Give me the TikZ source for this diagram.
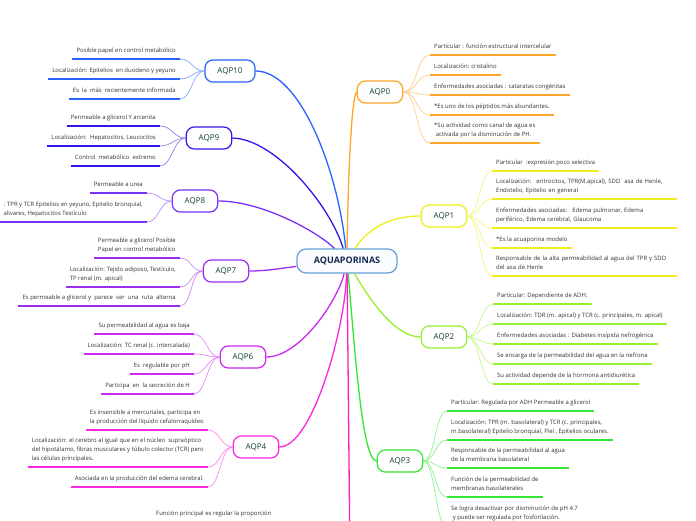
\documentclass[tikz,border=0pt]{standalone}
\usepackage{fontspec}
\setmainfont{Open Sans}
\usetikzlibrary{positioning}
\definecolor{ink}{RGB}{50,50,50}
\definecolor{hubink}{RGB}{20,40,80}
\definecolor{aqink}{RGB}{15,60,55}
\definecolor{hubline}{RGB}{100,160,215}
\definecolor{hubfill}{RGB}{250,252,255}
\definecolor{qzero}{RGB}{255,165,40}
\definecolor{qone}{RGB}{238,238,30}
\definecolor{qtwo}{RGB}{150,240,50}
\definecolor{qthree}{RGB}{50,230,50}
\definecolor{qfour}{RGB}{250,40,220}
\definecolor{qfive}{RGB}{255,30,190}
\definecolor{qsix}{RGB}{205,40,245}
\definecolor{qseven}{RGB}{155,45,240}
\definecolor{qeight}{RGB}{120,50,250}
\definecolor{qnine}{RGB}{50,25,235}
\definecolor{qten}{RGB}{41,98,255}

\begin{document}
\begin{tikzpicture}[x=1pt, y=-1pt,
  hub/.style={draw=hubline, line width=1.2pt, rounded corners=9pt, fill=hubfill, minimum width=100pt, minimum height=24pt, font=\fontsize{9}{10}\selectfont\bfseries, text=hubink},
  aqp/.style={draw=#1, line width=1.2pt, rounded corners=8pt, fill=white, minimum height=22pt, inner xsep=12.5pt, font=\fontsize{8}{9}\selectfont, text=aqink},
  leaf/.style={inner xsep=4pt, inner ysep=5pt, text depth=1.3pt, align=left, font=\fontsize{5.95}{8.8}\selectfont, text=ink},
  wideleaf/.style={leaf, text width=177pt, text depth={}},
  branch/.style={draw=#1, line width=1.3pt},
  twig/.style={draw=#1!55, line width=0.7pt},
  ul/.style={draw=#1, line width=1.8pt}]
\fill[white, use as bounding box] (0,0) rectangle (696,520);

\node[hub] (aqua) at (347,261) {AQUAPORINAS};
\node[aqp=qten] (aqp10) at (230,71) {AQP10};
\node[aqp=qnine] (aqp9) at (209,138) {AQP9};
\node[aqp=qeight] (aqp8) at (195,201) {AQP8};
\node[aqp=qseven] (aqp7) at (226,271) {AQP7};
\node[aqp=qsix] (aqp6) at (243,357) {AQP6};
\node[aqp=qfour] (aqp4) at (256,447) {AQP4};
\node[aqp=qzero] (aqp0) at (380,92) {AQP0};
\node[aqp=qone] (aqp1) at (444,216) {AQP1};
\node[aqp=qtwo] (aqp2) at (444,337) {AQP2};
\node[aqp=qthree] (aqp3) at (400,461) {AQP3};
\coordinate (aqp5) at (350,560);

\node[leaf, anchor=south west] (aqp0-1) at (430,55) {Particular : función estructural intercelular};
\node[leaf, anchor=south west] (aqp0-2) at (430,75) {Localización: cristalino};
\node[leaf, anchor=south west] (aqp0-3) at (430,95) {Enfermedades asociadas : cataratas congénitas};
\node[leaf, anchor=south west] (aqp0-4) at (430,115) {*Es uno de los péptidos más abundantes.};
\node[leaf, anchor=south west] (aqp0-5) at (430,143) {*Su actividad como canal de agua es\\~activada por la disminución de PH.};

\node[leaf, anchor=south west] (aqp1-1) at (492,171) {Particular \ :expresión poco selectiva};
\node[wideleaf, anchor=south west] (aqp1-2) at (492,199) {Localización: \ eritrocitos, TPR(M.apical), SDD \ asa de Henle,\\Endotelio, Epitelio en general\rule[-1.3pt]{0pt}{1.3pt}};
\node[wideleaf, anchor=south west] (aqp1-3) at (492,228) {Enfermedades asociadas: \ Edema pulmonar, Edema\\periférico, Edema cerebral, Glaucoma\rule[-1.3pt]{0pt}{1.3pt}};
\node[leaf, anchor=south west] (aqp1-4) at (492,248) {*Es la acuaporina modelo};
\node[wideleaf, anchor=south west] (aqp1-5) at (492,276) {Responsable de la alta permeabilidad al agua del TPR y SDD\\del asa de Henle\rule[-1.3pt]{0pt}{1.3pt}};

\node[leaf, anchor=south west] (aqp2-1) at (493,304) {Particular: Dependiente de ADH.};
\node[leaf, anchor=south west] (aqp2-2) at (493,324) {Localización: TDR (m. apical) y TCR (c. principales, m. apical)};
\node[leaf, anchor=south west] (aqp2-3) at (493,344) {Enfermedades asociadas : Diabetes insípida nefrogénica};
\node[leaf, anchor=south west] (aqp2-4) at (493,364) {Se encarga de la permeabilidad del agua en la nefrona};
\node[leaf, anchor=south west] (aqp2-5) at (493,384) {Su actividad depende de la hormona antidiurética};

\node[leaf, anchor=south west] (aqp3-1) at (447,411) {Particular: Regulada por ADH Permeable a glicerol};
\node[leaf, anchor=south west] (aqp3-2) at (447,440) {Localización: TPR (m. basolateral) y TCR (c. principales,\\m.basolateral) Epitelio bronquial, Piel , Epitelios oculares.};
\node[leaf, anchor=south west] (aqp3-3) at (447,468) {Responsable de la permeabilidad al agua\\de la membrana basolateral};
\node[leaf, anchor=south west] (aqp3-4) at (447,497) {Función de la permeabilidad de\\membranas basolaterales};
\node[leaf, anchor=south west] (aqp3-5) at (447,526) {Se logra desactivar por disminución de pH 4.7\\~y puede ser regulada por fosforilación.};

\node[leaf, anchor=south east] (aqp10-1) at (180,59) {Posible papel en control metabólico};
\node[leaf, anchor=south east] (aqp10-2) at (180,79) {Localización: Epitelios \ en duodeno y yeyuno};
\node[leaf, anchor=south east] (aqp10-3) at (180,99) {Es \ la \ más \ recientemente informada};

\node[leaf, anchor=south east] (aqp9-1) at (160,126) {Permeable a glicerol Y arcenita};
\node[leaf, anchor=south east] (aqp9-2) at (160,146) {Localización: \ Hepatocitos, Leucocitos};
\node[leaf, anchor=south east] (aqp9-3) at (160,166) {Control \ metabólico \ extremo};

\node[leaf, anchor=south east] (aqp8-1) at (147,193) {Permeable a urea};
\node[leaf, anchor=south east] (aqp8-2) at (147,222) {: TPR y TCR Epitelios en yeyuno, Epitelio bronquial,\\alivares, Hepatocitos Testículo};

\node[leaf, anchor=south east] (aqp7-1) at (180,258) {Permeable a glicerol Posible\\Papel en control metabólico};
\node[leaf, anchor=south east] (aqp7-2) at (180,287) {Localización: Tejido adiposo, Testículo,\\TP renal (m. apical)};
\node[leaf, anchor=south east] (aqp7-3) at (180,306) {Es permeable a glicerol y \ parece \ ser \ una \ ruta \ alterna};

\node[leaf, anchor=south east] (aqp6-1) at (194,334) {Su permeabilidad al agua es baja};
\node[leaf, anchor=south east] (aqp6-2) at (194,354) {Localización: TC renal (c. intercalada)};
\node[leaf, anchor=south east] (aqp6-3) at (194,374) {Es \ regulable por pH};
\node[leaf, anchor=south east] (aqp6-4) at (194,394) {Participa \ en \ la secreción de H};

\node[leaf, anchor=south east] (aqp4-1) at (208,430) {Es insensible a mercuriales, participa en\\la producción del líquido cefalorraquídeo};
\node[leaf, anchor=south east] (aqp4-2) at (208,467) {Localización: el cerebro al igual que en el núcleo \ supraóptico\\del hipotálamo, fibras musculares y túbulo colector (TCR) pero\\las células principales.};
\node[leaf, anchor=south east] (aqp4-3) at (208,487) {Asociada en la producción del edema cerebral.};

\node[leaf, anchor=base west, inner sep=0pt] (aqp5-1) at (156,515) {Función principal es regular la proporción};

\draw[branch=qten] (aqp10.east) .. controls (300,71) and (338,170) .. (aqua);
\draw[branch=qnine] (aqp9.east) .. controls (275,139) and (330,205) .. (aqua);
\draw[branch=qeight] (aqp8.east) .. controls (262,201) and (318,232) .. (aqua);
\draw[branch=qseven] (aqp7.east) .. controls (268,271) and (282,268) .. (aqua);
\draw[branch=qsix] (aqua) .. controls (338,300) and (300,357) .. (aqp6.east);
\draw[branch=qfour] (aqua) .. controls (345,330) and (312,447) .. (aqp4.east);
\draw[branch=qfive] (aqua) -- (aqp5);
\draw[branch=qzero] (aqp0.west) .. controls (352,95) and (348,170) .. (aqua);
\draw[branch=qone] (aqua) .. controls (370,225) and (395,216) .. (aqp1.west);
\draw[branch=qtwo] (aqua) .. controls (370,300) and (395,337) .. (aqp2.west);
\draw[branch=qthree] (aqua) .. controls (355,350) and (362,461) .. (aqp3.west);

\foreach \i in {1,...,5} {
  \draw[twig=qzero] (aqp0.east) .. controls +(14,0) and +(-14,0) .. (aqp0-\i.south west);
  \draw[ul=qzero] (aqp0-\i.south west) -- (aqp0-\i.south east);
  \draw[twig=qone] (aqp1.east) .. controls +(12,0) and +(-12,0) .. (aqp1-\i.south west);
  \draw[ul=qone] (aqp1-\i.south west) -- (aqp1-\i.south east);
  \draw[twig=qtwo] (aqp2.east) .. controls +(12,0) and +(-12,0) .. (aqp2-\i.south west);
  \draw[ul=qtwo] (aqp2-\i.south west) -- (aqp2-\i.south east);
  \draw[twig=qthree] (aqp3.east) .. controls +(12,0) and +(-12,0) .. (aqp3-\i.south west);
  \draw[ul=qthree] (aqp3-\i.south west) -- (aqp3-\i.south east);
}
\foreach \i in {1,...,3} {
  \draw[twig=qten] (aqp10.west) .. controls +(-12,0) and +(12,0) .. (aqp10-\i.south east);
  \draw[ul=qten] (aqp10-\i.south west) -- (aqp10-\i.south east);
  \draw[twig=qnine] (aqp9.west) .. controls +(-12,0) and +(12,0) .. (aqp9-\i.south east);
  \draw[ul=qnine] (aqp9-\i.south west) -- (aqp9-\i.south east);
  \draw[twig=qseven] (aqp7.west) .. controls +(-12,0) and +(12,0) .. (aqp7-\i.south east);
  \draw[ul=qseven] (aqp7-\i.south west) -- (aqp7-\i.south east);
  \draw[twig=qfour] (aqp4.west) .. controls +(-12,0) and +(12,0) .. (aqp4-\i.south east);
  \draw[ul=qfour] (aqp4-\i.south west) -- (aqp4-\i.south east);
}
\foreach \i in {1,...,4} {
  \draw[twig=qsix] (aqp6.west) .. controls +(-12,0) and +(12,0) .. (aqp6-\i.south east);
  \draw[ul=qsix] (aqp6-\i.south west) -- (aqp6-\i.south east);
}
\foreach \i in {1,2} {
  \draw[twig=qeight] (aqp8.west) .. controls +(-12,0) and +(12,0) .. (aqp8-\i.south east);
  \draw[ul=qeight] (aqp8-\i.south west) -- (aqp8-\i.south east);
}
\end{tikzpicture}
\end{document}
